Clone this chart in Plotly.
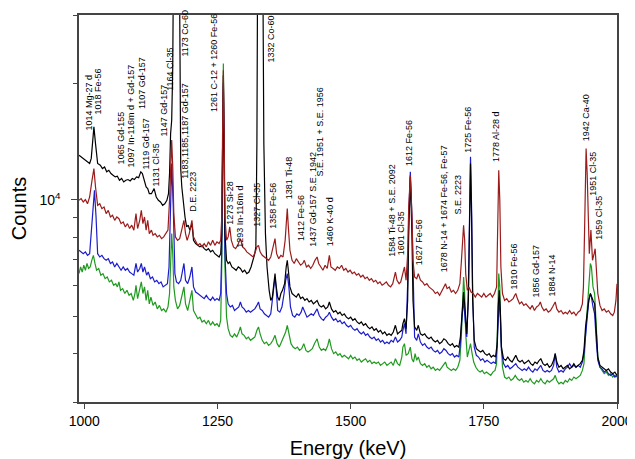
import math
import plotly.graph_objects as go

# ---------------- data (energy keV, counts) ----------------
black_spectrum = [
(990,13030),(994,12900),(998,12780),(1002,12650),(1006,12520),(1010,12400),(1013,12780),(1016,14250),(1018,15420),(1021,13960),
(1025,12400),(1030,12280),(1034,12030),(1038,12150),(1042,11800),(1046,11910),(1050,11680),(1054,11560),(1058,11450),(1062,11500),
(1066,11220),(1070,11340),(1074,11110),(1078,11220),(1082,11270),(1086,11180),(1090,11340),(1094,11270),(1098,11450),(1102,11400),
(1106,11800),(1109,11680),(1112,11220),(1116,10780),(1119,10680),(1122,10360),(1126,10360),(1131,10680),(1135,10160),(1139,9960),
(1143,9860),(1147,9670),(1151,9760),(1155,9960),(1158,10360),(1160,11680),(1162,14820),(1164,16040),(1166,22000),(1167,32000),
(1170,300000),(1173,600000),(1176,300000),(1179,32000),(1181,12000),(1183,10780),(1186,9800),(1189,9020),(1192,8500),(1195,8590),
(1198,8340),(1202,8670),(1205,7850),(1209,7700),(1213,7620),(1217,7550),(1221,7620),(1225,7470),(1229,7400),(1233,7470),
(1237,7330),(1241,7400),(1245,7250),(1249,7180),(1253,7110),(1256,7250),(1258,8170),(1259.5,13420),(1261,20960),(1262.5,13420),
(1264,8170),(1267,6970),(1270,6840),(1273,6900),(1277,6700),(1281,6640),(1285,6570),(1289,6700),(1293,6640),(1297,6500),
(1301,6570),(1305,6440),(1309,6500),(1313,6700),(1317,6970),(1320,7250),(1322,7550),(1324,14000),(1325,32000),(1328,300000),
(1331,600000),(1334,300000),(1335.5,32000),(1337,14000),(1340,8170),(1343,6700),(1347,5830),(1350,5490),(1353,5600),(1356,6200),
(1358,6440),(1360,6000),(1363,5600),(1366,5490),(1369,5720),(1372,5830),(1376,6065),(1379,6700),(1381,6970),(1383,6570),
(1386,5950),(1390,5720),(1394,5660),(1398,5600),(1402,5720),(1406,5550),(1410,5600),(1414,5490),(1418,5550),(1422,5440),
(1426,5490),(1430,5380),(1434,5440),(1437,5490),(1441,5330),(1445,5280),(1449,5330),(1453,5220),(1457,5280),(1460,5440),
(1464,5220),(1468,5120),(1472,5170),(1476,5070),(1480,5120),(1484,5020),(1488,5070),(1492,4970),(1496,4925),(1500,4970),
(1504,4875),(1508,4925),(1512,4830),(1516,4780),(1520,4830),(1524,4735),(1528,4780),(1532,4690),(1536,4640),(1540,4690),
(1544,4595),(1548,4640),(1552,4550),(1556,4595),(1560,4500),(1564,4550),(1568,4460),(1572,4500),(1576,4460),(1580,4550),
(1584,4735),(1588,4500),(1592,4550),(1596,4595),(1598,4780),(1601,4925),(1604,4640),(1607,5490),(1609,8170),(1612,11450),
(1615,8170),(1617,5490),(1620,4690),(1624,4595),(1627,4735),(1631,4500),(1635,4460),(1639,4500),(1643,4415),(1647,4370),
(1651,4415),(1655,4330),(1659,4285),(1663,4330),(1667,4245),(1671,4285),(1675,4370),(1679,4330),(1683,4245),(1687,4200),
(1691,4245),(1695,4160),(1699,4200),(1703,4160),(1706,4415),(1709,5170),(1712,5770),(1715,5170),(1718,4500),(1721,5490),
(1723,9020),(1725,12400),(1727,9020),(1729,5490),(1732,4330),(1736,4120),(1740,4077),(1744,4040),(1748,4077),(1752,4000),
(1756,3960),(1760,4000),(1764,3920),(1768,3960),(1772,3920),(1775,4245),(1777,5280),(1779,5830),(1781,5170),(1783,4160),
(1787,3880),(1791,3845),(1795,3920),(1799,3845),(1803,3805),(1807,3880),(1810,3960),(1814,3845),(1818,3805),(1822,3845),
(1826,3770),(1830,3805),(1834,3845),(1838,3770),(1842,3730),(1846,3805),(1850,3770),(1854,3845),(1857,3880),(1861,3770),
(1865,3730),(1869,3770),(1873,3690),(1877,3730),(1881,3845),(1884,4000),(1887,3805),(1891,3690),(1895,3730),(1899,3655),
(1903,3690),(1907,3730),(1911,3655),(1915,3690),(1919,3770),(1923,3690),(1927,3730),(1931,3770),(1935,3845),(1938,4077),
(1941,4690),(1944,5170),(1947,5490),(1950,5720),(1952,5600),(1955,5490),(1958,5380),(1961,4500),(1964,3920),(1968,3730),
(1972,3690),(1976,3655),(1980,3620),(1984,3655),(1988,3585),(1992,3550),(1996,3585),(2000,3515),
]

red_spectrum = [
(990,9960),(994,10060),(998,9860),(1002,10000),(1006,9760),(1010,10160),(1014,11110),(1018,12030),(1021,10780),(1025,9670),
(1029,9760),(1033,9480),(1037,9570),(1041,9200),(1045,9380),(1049,9020),(1053,9110),(1057,8840),(1061,9020),(1065,8930),
(1069,8670),(1073,8760),(1077,8500),(1081,8670),(1085,8420),(1089,8590),(1093,8340),(1097,9200),(1100,8420),(1104,8840),
(1107,9380),(1110,8670),(1113,9020),(1116,8340),(1119,8840),(1122,8170),(1126,8340),(1129,8090),(1133,8170),(1137,8010),
(1141,8090),(1145,7930),(1149,8010),(1153,8170),(1157,8340),(1160,9960),(1162,12650),(1164,14250),(1166,12150),(1168,9200),
(1171,8010),(1175,7850),(1179,7930),(1183,8340),(1187,8840),(1190,8170),(1193,7850),(1197,8170),(1200,8670),(1202,8840),
(1205,8010),(1209,7780),(1213,7620),(1217,7700),(1221,7550),(1225,7700),(1229,7550),(1233,7780),(1237,7620),(1241,7850),
(1245,7620),(1249,7780),(1253,7700),(1256,7850),(1258,9020),(1259.5,14820),(1261,21600),(1262.5,14820),(1264,9020),(1267,7850),
(1270,8010),(1273,8500),(1276,7850),(1280,7550),(1284,7470),(1288,7620),(1293,7930),(1297,7550),(1301,7470),(1305,7330),
(1309,7250),(1313,7180),(1317,7110),(1321,7330),(1324,7550),(1327,7620),(1330,7330),(1334,7180),(1338,7110),(1342,7040),
(1346,6970),(1350,7110),(1354,7550),(1358,7930),(1361,7250),(1365,7040),(1369,7180),(1373,7110),(1377,7850),(1379,8840),
(1381,9480),(1383,8500),(1386,7400),(1390,6970),(1394,6840),(1398,7040),(1402,6900),(1406,6770),(1410,6840),(1413,6970),
(1417,6700),(1421,6770),(1425,6640),(1429,6770),(1433,6970),(1437,7110),(1440,6840),(1444,6700),(1448,6570),(1452,6770),
(1456,6640),(1460,7180),(1463,6700),(1467,6640),(1471,6570),(1475,6700),(1479,6640),(1483,6770),(1487,6570),(1491,6640),
(1495,6500),(1499,6570),(1503,6440),(1507,6500),(1511,6380),(1515,6440),(1519,6310),(1523,6380),(1527,6250),(1531,6310),
(1535,6190),(1539,6250),(1543,6130),(1547,6190),(1551,6065),(1555,6130),(1559,6010),(1563,6065),(1567,6130),(1571,6010),
(1575,5950),(1579,6065),(1582,6310),(1584,6500),(1587,6190),(1591,6065),(1594,6130),(1598,6440),(1601,6700),(1604,6190),
(1607,7250),(1609,9570),(1612,11560),(1615,9200),(1617,6970),(1620,6310),(1624,6250),(1627,6440),(1631,6190),(1635,6130),
(1639,6010),(1643,6065),(1647,5950),(1651,5890),(1655,5830),(1659,5720),(1663,5770),(1667,5660),(1671,5830),(1675,5950),
(1678,6065),(1681,5890),(1685,5950),(1689,5770),(1693,5830),(1697,5720),(1701,5830),(1705,6065),(1708,6970),(1710,8170),
(1712,8590),(1714,7850),(1716,6440),(1719,5830),(1722,5950),(1726,5770),(1730,5720),(1734,5600),(1738,5720),(1742,5660),
(1746,5600),(1750,5720),(1754,5600),(1758,5660),(1762,5720),(1766,5600),(1770,5720),(1774,5950),(1776,7850),(1778,11910),
(1780,9960),(1782,6700),(1785,5720),(1789,5490),(1793,5550),(1797,5440),(1801,5490),(1805,5550),(1808,5660),(1810,5720),
(1813,5550),(1817,5380),(1821,5440),(1825,5330),(1829,5380),(1833,5280),(1837,5220),(1841,5330),(1845,5170),(1849,5280),
(1853,5330),(1856,5440),(1859,5280),(1863,5170),(1867,5220),(1871,5120),(1875,5170),(1879,5280),(1884,5440),(1887,5220),
(1891,5120),(1895,5170),(1899,5070),(1903,5120),(1907,5070),(1911,5170),(1915,5070),(1919,5120),(1923,5020),(1927,5120),
(1931,5170),(1935,5380),(1937,5950),(1939,8170),(1942,13550),(1944,11680),(1946,8170),(1948,7250),(1951,8340),(1954,6970),
(1957,7250),(1959,7470),(1961,6700),(1964,5720),(1968,5330),(1972,5170),(1976,5220),(1980,5120),(1984,5170),(1988,5070),
(1992,5020),(1995,5120),(1998,5490),(2000,6065),
]

blue_spectrum = [
(990,7400),(994,7330),(998,7250),(1002,7330),(1006,7180),(1010,7250),(1013,8170),(1016,9570),(1019,10570),(1022,9020),
(1025,7250),(1029,7110),(1033,7180),(1037,7040),(1041,6970),(1045,7040),(1049,6840),(1053,6900),(1057,6700),(1061,6840),
(1065,6700),(1069,6570),(1073,6700),(1077,6570),(1081,6640),(1085,6500),(1089,6440),(1093,6380),(1097,6840),(1100,6500),
(1104,6640),(1107,6840),(1110,6500),(1113,6700),(1117,6380),(1120,6500),(1124,6250),(1128,6310),(1132,6130),(1136,6190),
(1140,6065),(1144,6130),(1148,5950),(1152,6010),(1156,6065),(1159,6700),(1161,9020),(1164,12400),(1167,9570),(1170,6440),
(1173,6130),(1177,6065),(1181,6190),(1184,6570),(1187,6840),(1190,6190),(1194,6065),(1198,6310),(1202,6700),(1205,5950),
(1209,5770),(1213,5720),(1217,5660),(1221,5600),(1225,5550),(1229,5660),(1233,5550),(1237,5490),(1241,5600),(1245,5490),
(1249,5550),(1253,5490),(1256,5720),(1258,7400),(1259.5,13420),(1261,19950),(1262.5,13420),(1264,7250),(1267,5720),(1270,5380),
(1274,5280),(1278,5330),(1282,5170),(1286,5220),(1290,5280),(1293,5440),(1296,5280),(1300,5220),(1304,5120),(1308,5170),
(1312,5120),(1316,5170),(1320,5220),(1324,5330),(1327,5440),(1330,5220),(1334,5170),(1338,5070),(1342,5020),(1346,4970),
(1350,5070),(1354,5720),(1356,6190),(1358,6310),(1360,5950),(1363,5170),(1367,5120),(1371,5280),(1375,5720),(1378,6190),
(1381,6440),(1384,5950),(1387,5280),(1391,5020),(1395,4970),(1399,5070),(1403,5020),(1407,5120),(1410,5280),(1414,5120),
(1418,4970),(1422,5020),(1426,5070),(1430,5020),(1434,5120),(1437,5220),(1441,5020),(1445,4925),(1449,4875),(1453,4970),
(1457,5020),(1460,5120),(1464,4970),(1468,4875),(1472,4925),(1476,4830),(1480,4875),(1484,4780),(1488,4830),(1492,4735),
(1496,4690),(1500,4735),(1504,4640),(1508,4595),(1512,4640),(1516,4550),(1520,4500),(1524,4550),(1528,4460),(1532,4500),
(1536,4415),(1540,4370),(1544,4415),(1548,4330),(1552,4370),(1556,4285),(1560,4330),(1564,4245),(1568,4285),(1572,4245),
(1576,4330),(1580,4285),(1584,4415),(1588,4285),(1592,4330),(1596,4415),(1598,4595),(1601,4780),(1604,4500),(1607,6065),
(1609,9020),(1612,11800),(1615,9020),(1617,6065),(1620,4415),(1624,4330),(1627,4500),(1631,4285),(1635,4200),(1639,4245),
(1643,4160),(1647,4120),(1651,4160),(1655,4077),(1659,4040),(1663,4077),(1667,4000),(1671,4040),(1675,4120),(1679,4077),
(1683,4000),(1687,3960),(1691,4000),(1695,3920),(1699,3960),(1703,3920),(1706,4245),(1709,4970),(1712,5490),(1715,4875),
(1718,4415),(1721,5830),(1723,9570),(1725,12900),(1727,9570),(1729,5830),(1732,4160),(1736,3960),(1740,3920),(1744,3845),
(1748,3880),(1752,3805),(1756,3845),(1760,3805),(1764,3770),(1768,3805),(1772,3770),(1775,4160),(1777,5170),(1779,5600),
(1781,4970),(1783,4077),(1787,3770),(1791,3690),(1795,3730),(1799,3655),(1803,3690),(1807,3730),(1810,3770),(1814,3690),
(1818,3655),(1822,3620),(1826,3655),(1830,3620),(1834,3690),(1838,3620),(1842,3585),(1846,3655),(1850,3620),(1854,3690),
(1857,3730),(1861,3620),(1865,3585),(1869,3620),(1873,3585),(1877,3620),(1881,3730),(1884,4000),(1887,3690),(1891,3585),
(1895,3620),(1899,3585),(1903,3655),(1907,3690),(1911,3770),(1915,3690),(1919,3730),(1923,3690),(1927,3730),(1931,3690),
(1935,3805),(1938,4000),(1941,4500),(1944,4970),(1947,5490),(1950,5720),(1952,5600),(1955,5280),(1958,5070),(1961,4330),
(1964,3845),(1968,3690),(1972,3655),(1976,3585),(1980,3620),(1984,3550),(1988,3515),(1992,3550),(1996,3480),(2000,3515),
]

green_spectrum = [
(990,6440),(993,6700),(996,6500),(999,6770),(1002,6570),(1005,6840),(1008,6640),(1011,6700),(1014,6970),(1017,7180),
(1020,6840),(1023,6570),(1027,6640),(1031,6380),(1035,6440),(1039,6250),(1043,6310),(1047,6130),(1051,6190),(1055,6010),
(1059,6065),(1062,5950),(1065,6130),(1068,5830),(1072,5890),(1076,5720),(1080,5830),(1084,5660),(1088,5720),(1092,5490),
(1095,5720),(1097,6010),(1100,5550),(1103,5830),(1107,6130),(1110,5720),(1113,5950),(1116,5490),(1119,5830),(1122,5380),
(1125,5600),(1129,5330),(1133,5440),(1137,5220),(1141,5330),(1145,5170),(1149,5220),(1153,5120),(1157,5280),(1160,5720),
(1162,6970),(1164,8170),(1166,7250),(1168,5950),(1171,5490),(1175,5220),(1179,5330),(1183,5600),(1187,5950),(1190,5380),
(1194,5170),(1198,5490),(1202,5830),(1205,5170),(1209,5020),(1213,4925),(1217,4970),(1221,4830),(1225,4875),(1229,4780),
(1233,4875),(1237,4735),(1241,4830),(1245,4735),(1249,4780),(1253,4690),(1256,4875),(1258,6700),(1259.5,13420),(1261,22470),
(1262.5,13420),(1264,6700),(1267,4970),(1270,4640),(1274,4460),(1278,4415),(1282,4500),(1286,4415),(1290,4550),(1293,4690),
(1296,4500),(1300,4460),(1304,4370),(1308,4415),(1312,4330),(1316,4370),(1320,4415),(1324,4595),(1327,4690),(1330,4500),
(1334,4330),(1338,4245),(1342,4285),(1346,4200),(1350,4245),(1354,4330),(1358,4460),(1362,4245),(1366,4160),(1370,4285),
(1374,4415),(1378,4550),(1381,4735),(1384,4500),(1388,4245),(1392,4160),(1396,4120),(1400,4160),(1404,4077),(1408,4120),
(1412,4245),(1416,4077),(1420,4040),(1424,4077),(1428,4120),(1432,4245),(1437,4370),(1441,4160),(1445,4077),(1449,4120),
(1453,4077),(1457,4200),(1460,4370),(1464,4120),(1468,4000),(1472,4040),(1476,3960),(1480,4000),(1484,3920),(1488,3960),
(1492,3920),(1496,3880),(1500,3960),(1504,3880),(1508,3920),(1512,3845),(1516,3880),(1520,3805),(1524,3845),(1528,3880),
(1532,3805),(1536,3845),(1540,3770),(1544,3805),(1548,3770),(1552,3805),(1556,3730),(1560,3770),(1564,3805),(1568,3730),
(1572,3770),(1576,3805),(1580,3730),(1584,3880),(1588,3770),(1592,3730),(1596,3920),(1598,4160),(1601,4245),(1604,3960),
(1608,4000),(1612,4160),(1615,3880),(1618,3805),(1621,4000),(1624,3845),(1627,3920),(1631,3770),(1635,3730),(1639,3770),
(1643,3690),(1647,3730),(1651,3655),(1655,3690),(1659,3620),(1663,3655),(1667,3620),(1671,3690),(1675,3770),(1678,3805),
(1681,3690),(1685,3655),(1689,3620),(1693,3655),(1697,3620),(1701,3690),(1705,3845),(1708,4500),(1710,5490),(1712,6310),
(1714,5720),(1716,4500),(1719,3920),(1722,4077),(1725,4245),(1728,4000),(1731,3805),(1735,3690),(1739,3620),(1743,3585),
(1747,3620),(1751,3550),(1755,3585),(1759,3550),(1763,3515),(1767,3585),(1771,3620),(1774,3770),(1776,4970),(1778,6440),
(1780,5950),(1782,4500),(1785,3690),(1789,3480),(1793,3445),(1797,3480),(1801,3410),(1805,3445),(1809,3515),(1813,3445),
(1817,3410),(1821,3445),(1825,3375),(1829,3410),(1833,3375),(1837,3445),(1841,3375),(1845,3343),(1849,3410),(1853,3375),
(1857,3445),(1861,3375),(1865,3343),(1869,3410),(1873,3375),(1877,3410),(1881,3445),(1884,3515),(1887,3410),(1891,3343),
(1895,3375),(1899,3343),(1903,3410),(1907,3375),(1911,3445),(1915,3410),(1919,3480),(1923,3445),(1927,3480),(1931,3515),
(1935,3620),(1938,3770),(1941,4500),(1944,5280),(1947,6065),(1950,6840),(1952,6700),(1955,5950),(1958,5720),(1961,4875),
(1964,3920),(1968,3690),(1972,3620),(1976,3550),(1980,3585),(1984,3515),(1988,3550),(1992,3480),(1996,3515),(2000,3480),
]

# peak labels: text, energy of label column (keV), counts at label foot
label_text = [
    "1014 Mg-27 d", "1018 Fe-56", "1065 Gd-155", "1097 In-116m d + Gd-157", "1107 Gd-157",
    "1119 Gd-157", "1131 Cl-35", "1147 Gd-157", "1164 Cl-35", "1173 Co-60",
    "1183,1185,1187 Gd-157", "D.E. 2223", "1261 C-12 + 1260 Fe-56", "1273 Si-28", "1293 In-116m d",
    "1327 Cl-35", "1332 Co-60", "1358 Fe-56", "1381 Ti-48", "1412 Fe-56",
    "1437 Gd-157 S.E. 1942", "S.E. 1951 + S.E. 1956", "1460 K-40 d", "1584 Ti-48 + S.E. 2092", "1601 Cl-35",
    "1612 Fe-56", "1627 Fe-56", "1678 N-14 + 1674 Fe-56, Fe-57", "S.E. 2223", "1725 Fe-56",
    "1778 Al-28 d", "1810 Fe-56", "1856 Gd-157", "1884 N-14", "1942 Ca-40",
    "1951 Cl-35", "1959 Cl-35",
]
label_energy = [
    1008, 1026, 1068, 1087, 1108,
    1115, 1134, 1150, 1161, 1189,
    1190, 1205, 1243, 1274, 1293,
    1325, 1350, 1355, 1383, 1408,
    1429, 1442, 1460, 1578, 1596,
    1611, 1628, 1674, 1702, 1721,
    1773, 1807, 1847, 1878, 1941,
    1956, 1967,
]
label_counts = [
    14960, 16520, 12265, 12050, 17020,
    11900, 10760, 14490, 18950, 23300,
    11220, 9220, 16720, 8580, 7480,
    8480, 22500, 8380, 9960, 7760,
    7530, 11420, 7530, 7090, 7135,
    12120, 6725, 6450, 9110, 13170,
    12410, 5830, 5555, 5590, 14070,
    10140, 7850,
]

x_ticks = [1000, 1250, 1500, 1750, 2000]
y_major = [10000]
y_major_text = ["10<sup>4</sup>"]
y_minor = [3000, 4000, 5000, 6000, 7000, 8000, 9000, 20000, 30000]

# ---------------- figure ----------------
FONT = "Liberation Sans, Arial, sans-serif"
series = [
    ("green", green_spectrum, "#1f9a1f"),
    ("blue", blue_spectrum, "#1c1ccc"),
    ("black", black_spectrum, "#000000"),
    ("red", red_spectrum, "#9b1b1b"),
]

fig = go.Figure()
for name, data, color in series:
    xs = [p[0] for p in data]
    ys = [p[1] for p in data]
    fig.add_trace(go.Scatter(x=xs, y=ys, mode="lines", name=name,
                             line=dict(color=color, width=1.2), showlegend=False,
                             hoverinfo="skip"))

annotations = []
for t, e, c in zip(label_text, label_energy, label_counts):
    annotations.append(dict(
        x=e, y=math.log10(c), xref="x", yref="y", text=t, textangle=-90,
        showarrow=False, xanchor="center", yanchor="bottom",
        font=dict(family=FONT, size=9, color="#000000"),
        borderpad=0,
    ))

# the page body adds an 8px offset; the figure is sized so it ends at the window edge
axis_color = "#444444"
fig.update_layout(
    width=627, height=451,
    margin=dict(l=71, r=18, t=7, b=57, autoexpand=False),
    paper_bgcolor="white", plot_bgcolor="white",
    font=dict(family=FONT, color="#000000"),
    annotations=annotations,
    showlegend=False,
    xaxis=dict(
        range=[990, 2000], tickmode="array", tickvals=x_ticks,
        ticks="outside", ticklen=5, tickwidth=1.2, tickcolor=axis_color,
        showline=True, linecolor=axis_color, linewidth=1.5, mirror=True,
        showgrid=False, zeroline=False, automargin=False,
        tickfont=dict(size=14, family=FONT),
        title=dict(text="Energy (keV)", font=dict(size=20, family=FONT), standoff=15),
    ),
    yaxis=dict(
        type="log", range=[math.log10(3000), math.log10(30000)],
        tickmode="array", tickvals=y_major, ticktext=y_major_text,
        ticks="outside", ticklen=6, tickwidth=1.2, tickcolor=axis_color,
        ticklabelstandoff=8, automargin=False,
        minor=dict(tickmode="array", tickvals=y_minor, ticks="outside", ticklen=4,
                   tickwidth=1.2, tickcolor=axis_color, showgrid=False),
        showline=True, linecolor=axis_color, linewidth=1.5, mirror=True,
        showgrid=False, zeroline=False,
        tickfont=dict(size=14, family=FONT),
        title=dict(text="Counts", font=dict(size=20, family=FONT), standoff=26),
    ),
)

fig.write_html("out.html")
